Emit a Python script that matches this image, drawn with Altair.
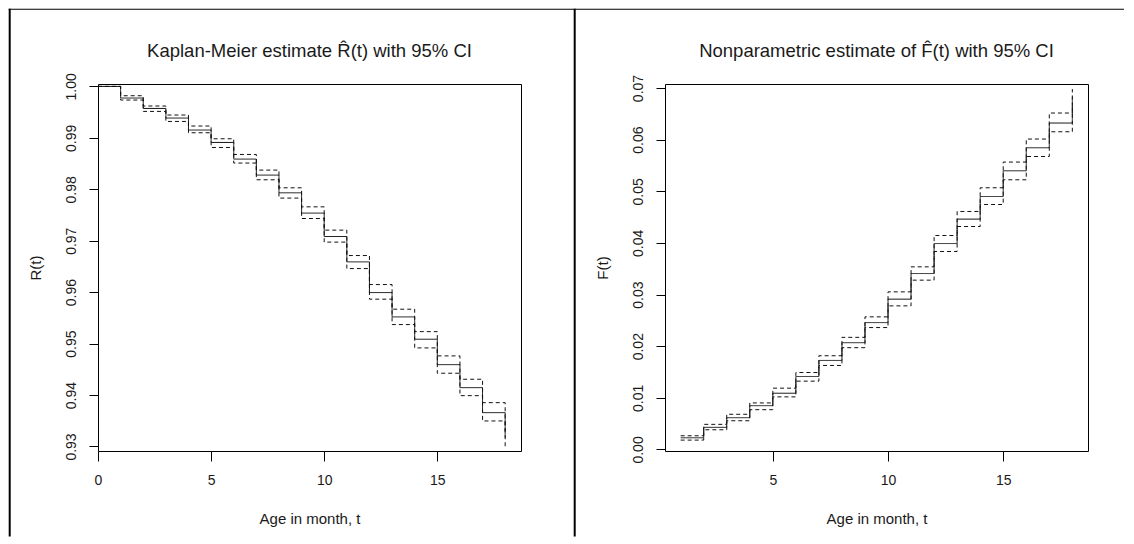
import altair as alt
import pandas as pd

# ---------------- data ----------------
t_r = list(range(0, 19))
r_est = [1.0, 0.99774, 0.99572, 0.99385, 0.99152, 0.98911, 0.98587, 0.98276, 0.97932,
         0.97537, 0.97082, 0.96589, 0.95992, 0.95519, 0.95085, 0.94591, 0.94144, 0.93658, 0.9317]
r_upper = [1.0, 0.99819, 0.99619, 0.99444, 0.99230, 0.98982, 0.98677, 0.98373, 0.98029,
           0.97659, 0.97206, 0.96712, 0.96148, 0.95669, 0.95233, 0.94761, 0.94307, 0.93852, 0.9330]
r_lower = [1.0, 0.99735, 0.99514, 0.99319, 0.99099, 0.98813, 0.98510, 0.98185, 0.97829,
           0.97432, 0.96973, 0.96459, 0.95864, 0.95370, 0.94916, 0.94424, 0.93988, 0.93496, 0.9297]

t_f = list(range(1, 19))
f_est = [0.00226, 0.00428, 0.00615, 0.00848, 0.01089, 0.01413, 0.01724, 0.02068, 0.02457,
         0.02911, 0.03407, 0.03988, 0.04461, 0.04899, 0.05397, 0.05843, 0.06322, 0.0683]
f_upper = [0.00265, 0.00486, 0.00681, 0.00901, 0.01187, 0.0149, 0.01815, 0.02171, 0.02568,
           0.03052, 0.03537, 0.04144, 0.04609, 0.05068, 0.05566, 0.06012, 0.06516, 0.0698]
f_lower = [0.00181, 0.00381, 0.00556, 0.0077, 0.01018, 0.01323, 0.01627, 0.01971, 0.02361,
           0.02781, 0.03279, 0.03834, 0.04318, 0.04744, 0.05223, 0.05674, 0.06153, 0.0670]

x_ticks_r = [0, 5, 10, 15]
y_ticks_r = [0.93, 0.94, 0.95, 0.96, 0.97, 0.98, 0.99, 1.00]
x_ticks_f = [5, 10, 15]
y_ticks_f = [0.00, 0.01, 0.02, 0.03, 0.04, 0.05, 0.06, 0.07]

title_r = "Kaplan-Meier estimate R\u0302(t) with 95% CI"
title_f = "Nonparametric estimate of F\u0302(t) with 95% CI"
x_label = "Age in month, t"
y_label_r = "R(t)"
y_label_f = "F(t)"
series_names = ["estimate", "upper", "lower"]

# ---------------- layout / style ----------------
W, H = 423, 367
FONT = "Liberation Sans"
TXT = "#1a1a1a"


def long_df(t, est, up, lo):
    rows = []
    for name, vals in zip(series_names, [est, up, lo]):
        for ti, v in zip(t, vals):
            rows.append({"t": ti, "value": v, "series": name})
    return pd.DataFrame(rows)


def panel(t, est, up, lo, xdom, ydom, xt, yt, ylab, title, with_frame=False):
    df = long_df(t, est, up, lo)
    lines = alt.Chart(df).mark_line(interpolate="step-after", color="#111111", strokeWidth=1).encode(
        x=alt.X("t:Q", scale=alt.Scale(domain=xdom, nice=False, zero=False),
                axis=alt.Axis(values=xt, title=x_label, tickSize=10, tickColor="#000",
                              labelPadding=23, labelBaseline="alphabetic", labelFlush=False,
                              labelOverlap=False, labelFont=FONT, labelFontSize=14, labelColor=TXT,
                              titleX=W / 2, titleY=72, titleBaseline="alphabetic", titleAlign="center",
                              titleFont=FONT, titleFontSize=15, titleFontWeight="normal", titleColor=TXT,
                              domain=False, grid=False)),
        y=alt.Y("value:Q", scale=alt.Scale(domain=ydom, nice=False, zero=False),
                axis=alt.Axis(values=yt, format=".2f", title=ylab, tickSize=9, tickColor="#000",
                              labelAngle=270, labelAlign="center", labelBaseline="alphabetic",
                              labelPadding=14, labelFlush=False, labelOverlap=False,
                              labelFont=FONT, labelFontSize=14, labelColor=TXT,
                              titleX=-58, titleY=H / 2, titleAngle=270, titleAlign="center",
                              titleBaseline="alphabetic", titleFont=FONT, titleFontSize=15,
                              titleFontWeight="normal", titleColor=TXT,
                              domain=False, grid=False)),
        strokeDash=alt.StrokeDash("series:N",
                                  scale=alt.Scale(domain=series_names, range=[[1, 0], [4, 3], [4, 3]]),
                                  legend=None),
        detail="series:N",
    )
    one = pd.DataFrame({"k": [0]})
    ttl = alt.Chart(one).mark_text(font=FONT, fontSize=18.5, color=TXT, align="center",
                                   baseline="alphabetic").encode(
        x=alt.value(W / 2), y=alt.value(-27), text=alt.value(title))
    layers = [lines, ttl]
    if with_frame:
        # page frame of the screenshot (filled thin rects so bounds are exact)
        left_border = alt.Chart(one).mark_rect(color="#000", strokeWidth=0).encode(
            x=alt.value(-89.3), x2=alt.value(-87.3), y=alt.value(-75.3), y2=alt.value(452.5))
        top_border = alt.Chart(one).mark_rect(color="#000", strokeWidth=0).encode(
            x=alt.value(-89.3), x2=alt.value(1026), y=alt.value(-75.3), y2=alt.value(-74.2))
        divider = alt.Chart(one).mark_rect(color="#000", strokeWidth=0).encode(
            x=alt.value(475.7), x2=alt.value(477.7), y=alt.value(-75.3), y2=alt.value(452.5))
        layers += [left_border, top_border, divider]
    return alt.layer(*layers).properties(width=W, height=H)


left = panel(t_r, r_est, r_upper, r_lower, [0, 18.7], [0.92912, 1.00047],
             x_ticks_r, y_ticks_r, y_label_r, title_r, with_frame=True)
right = panel(t_f, f_est, f_upper, f_lower, [0.32, 18.68], [-0.0003, 0.07078],
              x_ticks_f, y_ticks_f, y_label_f, title_f)

chart = alt.hconcat(left, right, spacing=144, bounds="flush").properties(
    padding=0, background="white"
).configure_view(stroke="#000", strokeWidth=1)

chart.save("out.html", embed_options={"renderer": "svg", "actions": False})
